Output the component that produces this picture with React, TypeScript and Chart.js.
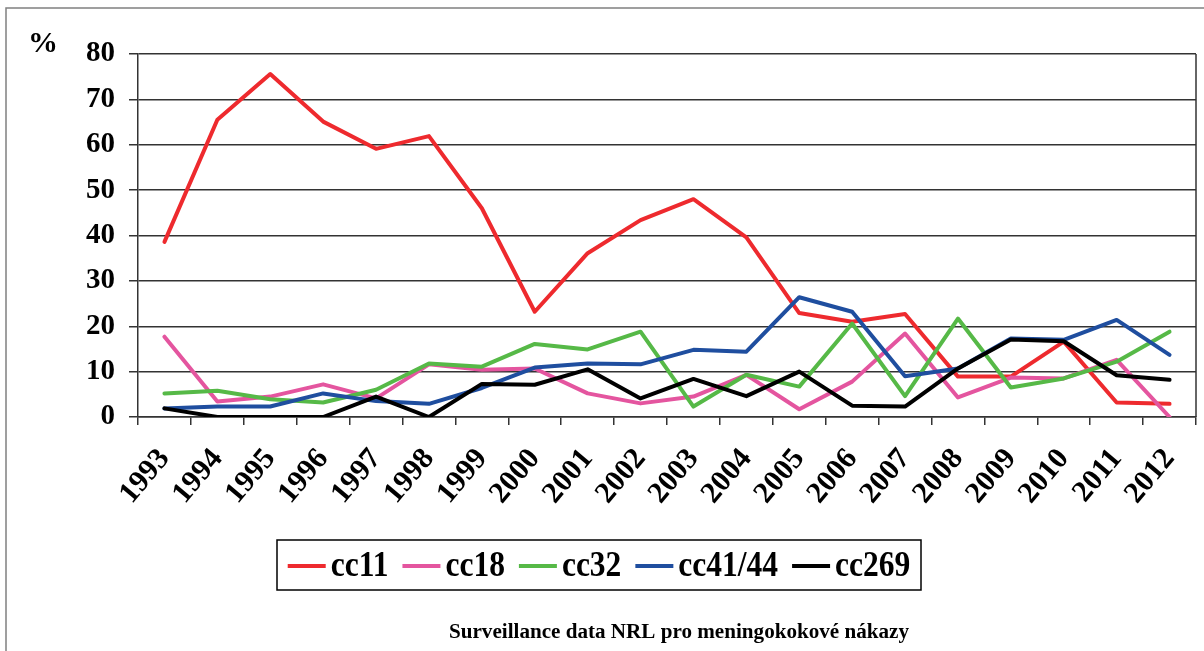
import React, { useEffect, useRef } from "react";
import { Chart, registerables } from "chart.js";

Chart.register(...registerables);

const years = ["1993","1994","1995","1996","1997","1998","1999","2000","2001","2002","2003","2004","2005","2006","2007","2008","2009","2010","2011","2012"];
const cc11 = [38.6, 65.5, 75.6, 65.1, 59.1, 61.9, 46.0, 23.2, 36.1, 43.4, 48.0, 39.6, 22.9, 21.0, 22.7, 8.9, 8.9, 16.6, 3.2, 2.9];
const cc18 = [17.7, 3.4, 4.5, 7.2, 4.1, 11.6, 10.4, 10.7, 5.2, 3.0, 4.5, 9.3, 1.7, 7.8, 18.4, 4.3, 8.7, 8.5, 12.6, 0];
const cc32 = [5.2, 5.8, 3.9, 3.2, 6.0, 11.8, 11.1, 16.1, 14.9, 18.8, 2.3, 9.3, 6.7, 20.6, 4.6, 21.7, 6.5, 8.5, 12.2, 18.8];
const cc4144 = [1.9, 2.3, 2.3, 5.2, 3.5, 2.9, 6.4, 10.9, 11.8, 11.6, 14.8, 14.4, 26.4, 23.2, 9.0, 10.7, 17.3, 17.0, 21.4, 13.7];
const cc269 = [1.9, 0, 0, 0, 4.5, 0, 7.3, 7.1, 10.5, 4.1, 8.4, 4.6, 10.0, 2.5, 2.3, 10.7, 17.1, 16.7, 9.2, 8.2];
const seriesNames = ["cc11", "cc18", "cc32", "cc41/44", "cc269"];
const seriesColors = ["#EE2A2E", "#E4559F", "#56B947", "#1F4E9F", "#000000"];
const yTicks = [0, 10, 20, 30, 40, 50, 60, 70, 80];
const subtitle = "Surveillance data NRL pro meningokokové nákazy";
const yUnit = "%";

const FONT = '"Liberation Serif", "Times New Roman", serif';

const decor = {
  id: "decor",
  afterDraw(chart: any) {
    const ctx = chart.ctx as CanvasRenderingContext2D;
    const a = chart.chartArea;
    ctx.save();
    // outer frame (right / bottom lie outside the picture)
    ctx.strokeStyle = "#808080";
    ctx.lineWidth = 1.5;
    ctx.strokeRect(6, 8, 1400, 900);
    // right border of plot area
    ctx.strokeStyle = "#333";
    ctx.lineWidth = 1.5;
    ctx.beginPath();
    ctx.moveTo(a.right, a.top);
    ctx.lineTo(a.right, a.bottom);
    ctx.stroke();
    // unit label
    ctx.fillStyle = "#000";
    ctx.font = `bold 30px ${FONT}`;
    ctx.textAlign = "center";
    ctx.textBaseline = "middle";
    ctx.fillText(yUnit, 43, 44);

    // legend
    const bx = 277, by = 540, bw = 644, bh = 50;
    ctx.strokeStyle = "#000";
    ctx.lineWidth = 1.5;
    ctx.strokeRect(bx, by, bw, bh);
    ctx.font = `bold 35px ${FONT}`;
    const squeeze = 0.9;
    const sample = 38, gap = 5, itemGap = 14;
    const dsets = chart.data.datasets;
    const widths = dsets.map((d: any) => ctx.measureText(d.label).width * squeeze);
    const total = widths.reduce((s: number, w: number) => s + w, 0) + dsets.length * (sample + gap) + (dsets.length - 1) * itemGap;
    let x = bx + (bw - total) / 2;
    const cy = by + bh / 2 + 1;
    ctx.textAlign = "left";
    ctx.textBaseline = "middle";
    dsets.forEach((d: any, i: number) => {
      ctx.strokeStyle = d.borderColor;
      ctx.lineWidth = 4;
      ctx.beginPath();
      ctx.moveTo(x, cy);
      ctx.lineTo(x + sample, cy);
      ctx.stroke();
      x += sample + gap;
      ctx.save();
      ctx.translate(x, cy + 1);
      ctx.scale(squeeze, 1);
      ctx.fillStyle = "#000";
      ctx.fillText(d.label, 0, 0);
      ctx.restore();
      x += widths[i] + itemGap;
    });

    // subtitle, horizontally condensed to match
    ctx.font = `bold 20px ${FONT}`;
    const tw = ctx.measureText(subtitle).width;
    ctx.translate(679, 633);
    ctx.scale(460 / tw, 1);
    ctx.textAlign = "center";
    ctx.textBaseline = "middle";
    ctx.fillStyle = "#000";
    ctx.fillText(subtitle, 0, 0);
    ctx.restore();
  },
};

export default function App() {
  const ref = useRef<HTMLCanvasElement>(null);
  useEffect(() => {
    const all = [cc11, cc18, cc32, cc4144, cc269];
    const chart = new Chart(ref.current!, {
      type: "line",
      data: {
        labels: years,
        datasets: all.map((d, i) => ({
          label: seriesNames[i],
          data: d,
          borderColor: seriesColors[i],
          backgroundColor: seriesColors[i],
          borderWidth: 4,
          pointRadius: 0,
          tension: 0,
          borderJoinStyle: "round" as const,
          borderCapStyle: "round" as const,
          order: all.length - i,
        })),
      },
      options: {
        responsive: false,
        devicePixelRatio: 1,
        animation: false,
        layout: { padding: { top: 54, right: 8, left: 0, bottom: 0 } },
        plugins: {
          legend: { display: false },
          tooltip: { enabled: false },
          title: { display: false },
        },
        scales: {
          x: {
            offset: true,
            grid: {
              display: true,
              drawOnChartArea: false,
              drawTicks: true,
              tickLength: 8,
              offset: true,
              color: "#333",
              lineWidth: 1.5,
            },
            border: { display: true, color: "#333", width: 1.5 },
            ticks: {
              autoSkip: false,
              minRotation: 50,
              maxRotation: 50,
              padding: 17,
              color: "#000",
              font: { family: FONT, weight: "bold", size: 30 },
            },
            afterFit: (s: any) => {
              s.height = 234;
              s.paddingLeft = 0;
              s.paddingRight = 0;
            },
          },
          y: {
            min: 0,
            max: 80,
            afterBuildTicks: (s: any) => {
              s.ticks = yTicks.map((v) => ({ value: v }));
            },
            grid: { color: "#333", lineWidth: 1.5, tickLength: 9, drawTicks: true },
            border: { display: true, color: "#333", width: 1.5 },
            ticks: {
              padding: 14,
              color: "#000",
              font: { family: FONT, weight: "bold", size: 29 },
            },
            afterFit: (s: any) => {
              s.width = 138;
              s.paddingTop = 0;
              s.paddingBottom = 0;
            },
          },
        },
      },
      plugins: [decor],
    });
    return () => chart.destroy();
  }, []);
  return (
    <div style={{ position: "fixed", left: 0, top: 0, width: 1204, height: 651, background: "#fff" }}>
      <canvas ref={ref} width={1204} height={651} style={{ display: "block", width: 1204, height: 651 }} />
    </div>
  );
}
